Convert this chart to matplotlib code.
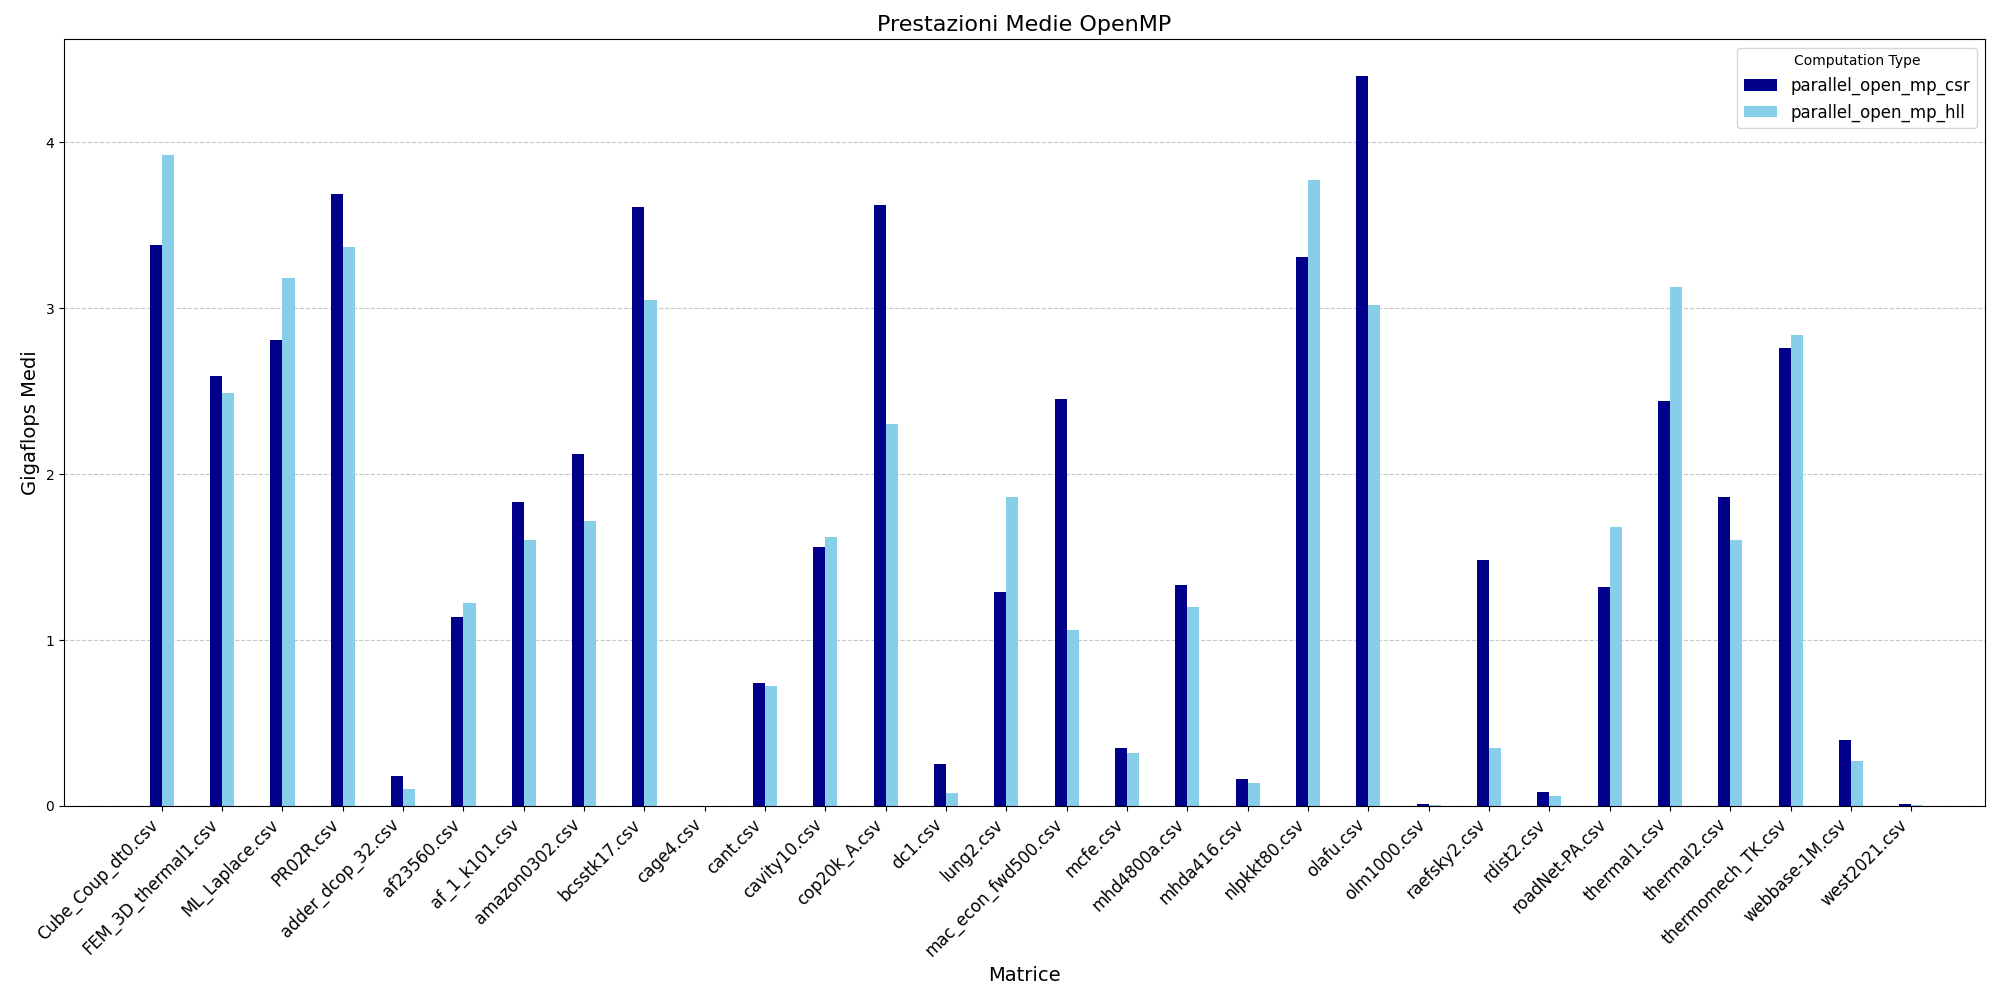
import matplotlib
matplotlib.use("Agg")
import matplotlib.pyplot as plt
import numpy as np

matrices = ["Cube_Coup_dt0.csv","FEM_3D_thermal1.csv","ML_Laplace.csv","PR02R.csv","adder_dcop_32.csv",
"af23560.csv","af_1_k101.csv","amazon0302.csv","bcsstk17.csv","cage4.csv","cant.csv","cavity10.csv",
"cop20k_A.csv","dc1.csv","lung2.csv","mac_econ_fwd500.csv","mcfe.csv","mhd4800a.csv","mhda416.csv",
"nlpkkt80.csv","olafu.csv","olm1000.csv","raefsky2.csv","rdist2.csv","roadNet-PA.csv","thermal1.csv",
"thermal2.csv","thermomech_TK.csv","webbase-1M.csv","west2021.csv"]
csr = [3.38,2.59,2.81,3.69,0.18,1.14,1.83,2.12,3.61,0.0,0.74,1.56,3.62,0.25,1.29,2.45,0.35,1.33,0.16,
       3.31,4.40,0.01,1.48,0.085,1.32,2.44,1.86,2.76,0.40,0.01]
hll = [3.92,2.49,3.18,3.37,0.10,1.22,1.60,1.72,3.05,0.0,0.72,1.62,2.30,0.08,1.86,1.06,0.32,1.20,0.14,
       3.77,3.02,0.005,0.35,0.06,1.68,3.13,1.60,2.84,0.27,0.005]

fig, ax = plt.subplots(figsize=(20,10), dpi=100)
x = np.arange(len(matrices))
w = 0.2
ax.bar(x - w/2, csr, w, color="darkblue", label="parallel_open_mp_csr")
ax.bar(x + w/2, hll, w, color="skyblue", label="parallel_open_mp_hll")
ax.set_xticks(x)
ax.set_xticklabels(matrices, rotation=45, ha="right", fontsize=12)
ax.set_xlim(-1.62, len(matrices)-1+1.22)
ax.set_ylim(0, 4.62)
ax.grid(axis="y", linestyle="--", alpha=0.7)
ax.set_axisbelow(True)
ax.set_title("Prestazioni Medie OpenMP", fontsize=16)
ax.set_xlabel("Matrice", fontsize=14)
ax.set_ylabel("Gigaflops Medi", fontsize=14)
ax.legend(title="Computation Type", fontsize=12, loc="upper right")
plt.tight_layout()
plt.savefig("out.png")
